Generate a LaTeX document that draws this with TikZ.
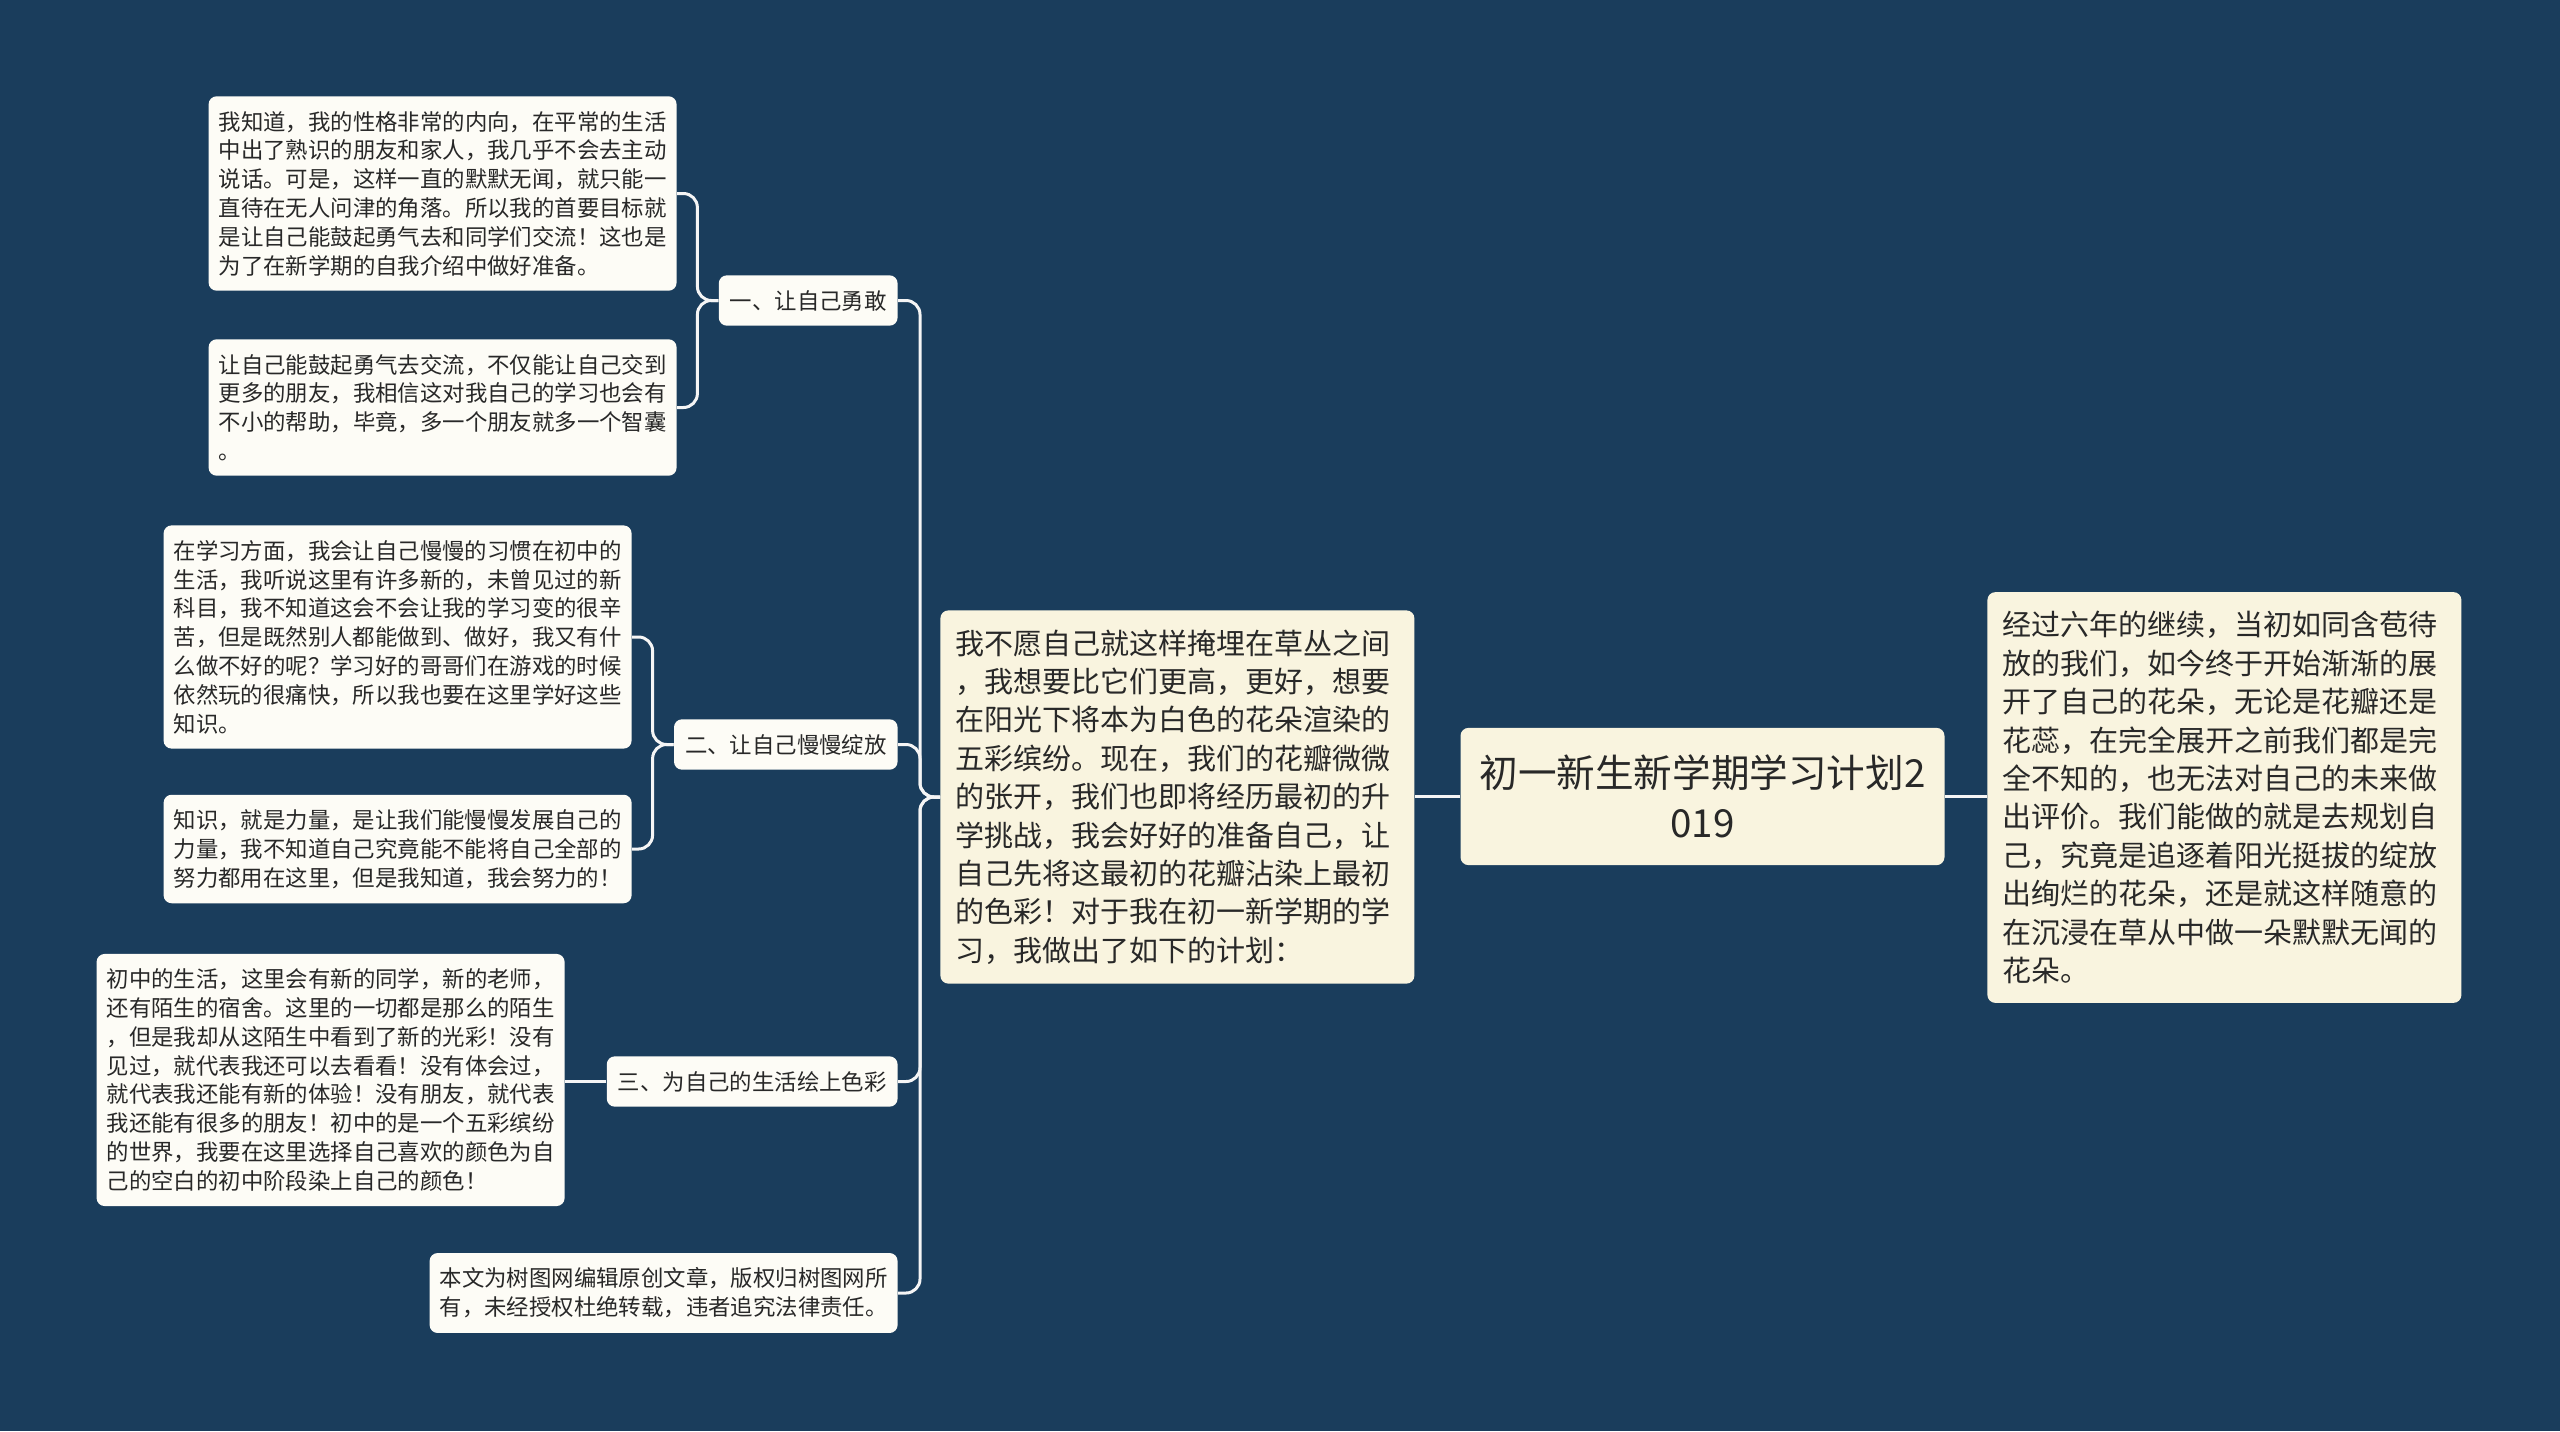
\documentclass[tikz,border=0pt]{standalone}
\usepackage{fontspec}
\setmainfont{Noto Sans CJK SC}
\definecolor{bgblue}{RGB}{26,61,92}
\definecolor{cream}{RGB}{249,244,223}
\definecolor{paper}{RGB}{253,252,246}
\definecolor{ink}{RGB}{40,40,40}
\begin{document}
\begin{tikzpicture}[
    x=0.5pt, y=-0.5pt,
    leaf/.style={rectangle, fill=paper, text=ink, rounded corners=4pt, text width=224pt, align=left, inner xsep=5pt, inner ysep=7.4pt, font=\fontsize{11.2}{14.4}\selectfont},
    branch/.style={rectangle, fill=paper, text=ink, rounded corners=4pt, inner xsep=5.5pt, inner ysep=7.4pt, font=\fontsize{11.2}{14.4}\selectfont},
    idea/.style={rectangle, fill=cream, text=ink, rounded corners=4pt, text width=222pt, align=left, inner xsep=7.5pt, inner ysep=9.6pt, font=\fontsize{14.5}{19.2}\selectfont},
    topic/.style={rectangle, fill=cream, text=ink, rounded corners=4pt, text width=228pt, align=center, inner xsep=7pt, inner ysep=13.5pt, font=\fontsize{19.3}{25}\selectfont},
    link/.style={draw=white!96!black, line width=1.5pt, rounded corners=7pt}
]
    \fill [bgblue] (0,0) rectangle (2560,1431);
    \useasboundingbox (0,0) rectangle (2560,1431);

    \node [topic] (root) at (1702.5,796.5) {初一新生新学期学习计划2\\019};
    \node [idea, anchor=west] (summary) at (1987,797.5) {经过六年的继续，当初如同含苞待\\放的我们，如今终于开始渐渐的展\\开了自己的花朵，无论是花瓣还是\\花蕊，在完全展开之前我们都是完\\全不知的，也无法对自己的未来做\\出评价。我们能做的就是去规划自\\己，究竟是追逐着阳光挺拔的绽放\\出绚烂的花朵，还是就这样随意的\\在沉浸在草从中做一朵默默无闻的\\花朵。};
    \node [idea, anchor=west] (intro) at (940,797) {我不愿自己就这样掩埋在草丛之间\\，我想要比它们更高，更好，想要\\在阳光下将本为白色的花朵渲染的\\五彩缤纷。现在，我们的花瓣微微\\的张开，我们也即将经历最初的升\\学挑战，我会好好的准备自己，让\\自己先将这最初的花瓣沾染上最初\\的色彩！对于我在初一新学期的学\\习，我做出了如下的计划：};

    \node [branch, anchor=east] (brave) at (898,300.5) {一、让自己勇敢};
    \node [branch, anchor=east] (bloom) at (898,744.5) {二、让自己慢慢绽放};
    \node [branch, anchor=east] (colour) at (898,1081.5) {三、为自己的生活绘上色彩};
    \node [leaf, anchor=east] (note) at (898,1293) {本文为树图网编辑原创文章，版权归树图网所\\有，未经授权杜绝转载，违者追究法律责任。};

    \node [leaf, anchor=east] (brave1) at (677,193.5) {我知道，我的性格非常的内向，在平常的生活\\中出了熟识的朋友和家人，我几乎不会去主动\\说话。可是，这样一直的默默无闻，就只能一\\直待在无人问津的角落。所以我的首要目标就\\是让自己能鼓起勇气去和同学们交流！这也是\\为了在新学期的自我介绍中做好准备。};
    \node [leaf, anchor=east] (brave2) at (677,407.5) {让自己能鼓起勇气去交流，不仅能让自己交到\\更多的朋友，我相信这对我自己的学习也会有\\不小的帮助，毕竟，多一个朋友就多一个智囊\\。};
    \node [leaf, anchor=east] (bloom1) at (632,637) {在学习方面，我会让自己慢慢的习惯在初中的\\生活，我听说这里有许多新的，未曾见过的新\\科目，我不知道这会不会让我的学习变的很辛\\苦，但是既然别人都能做到、做好，我又有什\\么做不好的呢？学习好的哥哥们在游戏的时候\\依然玩的很痛快，所以我也要在这里学好这些\\知识。};
    \node [leaf, anchor=east] (bloom2) at (632,849) {知识，就是力量，是让我们能慢慢发展自己的\\力量，我不知道自己究竟能不能将自己全部的\\努力都用在这里，但是我知道，我会努力的！};
    \node [leaf, anchor=east] (colour1) at (565,1080) {初中的生活，这里会有新的同学，新的老师，\\还有陌生的宿舍。这里的一切都是那么的陌生\\，但是我却从这陌生中看到了新的光彩！没有\\见过，就代表我还可以去看看！没有体会过，\\就代表我还能有新的体验！没有朋友，就代表\\我还能有很多的朋友！初中的是一个五彩缤纷\\的世界，我要在这里选择自己喜欢的颜色为自\\己的空白的初中阶段染上自己的颜色！};

    \draw [link] (root.east) -- (root.east -| summary.west);
    \draw [link] (root.west) -- (root.west -| intro.east);

    \draw [link] (intro.west) -- ++(-20,0) |- (brave.east);
    \draw [link] (intro.west) -- ++(-20,0) |- (bloom.east);
    \draw [link] (intro.west) -- ++(-20,0) |- (colour.east);
    \draw [link] (intro.west) -- ++(-20,0) |- (note.east);

    \draw [link] (brave.west) -- ++(-21,0) |- (brave1.east);
    \draw [link] (brave.west) -- ++(-21,0) |- (brave2.east);
    \draw [link] (bloom.west) -- ++(-21,0) |- (bloom1.east);
    \draw [link] (bloom.west) -- ++(-21,0) |- (bloom2.east);
    \draw [link] (colour.west) -- (colour.west -| colour1.east);
\end{tikzpicture}
\end{document}
